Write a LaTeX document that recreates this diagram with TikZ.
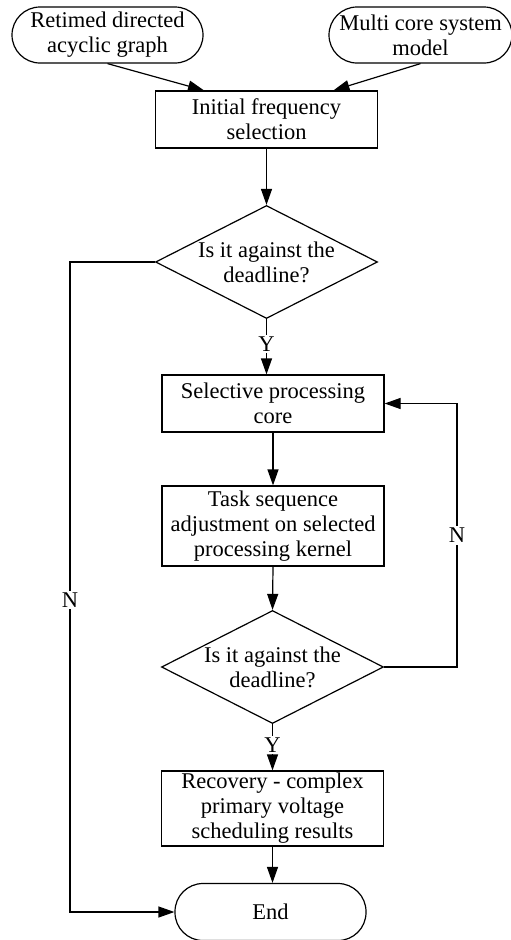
\documentclass[tikz,border=0pt]{standalone}
\usepackage{fontspec}
\setmainfont{Liberation Serif}
\usetikzlibrary{shapes.geometric,arrows.meta,calc}

\tikzset{
  terminal/.style={draw, rectangle, rounded corners=28pt, minimum height=56pt, inner sep=0pt, align=center},
  process/.style={draw, rectangle, minimum width=222pt, inner sep=0pt, align=center},
  decision/.style={draw, diamond, minimum width=222pt, minimum height=113pt, inner sep=0pt},
  flow/.style={-{Triangle[length=16pt,width=11pt]}},
  lbl/.style={fill=white, inner sep=2pt},
}

\begin{document}
\begin{tikzpicture}[x=1pt,y=-1pt,line width=1.2pt,font=\fontsize{22.5}{25}\selectfont]
            \useasboundingbox (0,0) rectangle (511,940);

            % draw the inputs
            \node[terminal, minimum width=191pt] (dag) at (107.5,35) {Retimed directed\\acyclic graph};
            \node[terminal, minimum width=183pt] (model) at (420.5,35) {Multi core system\\model};

            % draw the main column
            \node[process, minimum height=57pt] (init) at (266.5,119.5) {Initial frequency\\selection};
            \node[decision, label={[align=center]center:Is it against the\\deadline?}] (d1) at (266.5,262) {};
            \node[process, minimum height=57pt] (sel) at (273,403.5) {Selective processing\\core};
            \node[process, minimum height=80pt] (task) at (273,526) {Task sequence\\adjustment on selected\\processing kernel};
            \node[decision, label={[align=center]center:Is it against the\\deadline?}] (d2) at (272.5,667) {};
            \node[process, minimum height=75pt] (rec) at (272.5,808.5) {Recovery - complex\\primary voltage\\scheduling results};
            \node[terminal, minimum width=191pt, minimum height=57pt] (end) at (270.5,912) {End};

            % bends of the loops
            \coordinate (leftbend) at (70,262);
            \coordinate (rightbend) at (457,667);

            % draw the connectors
            \draw[flow] (dag.south) -- ($(init.north west)!0.22!(init.north east)$);
            \draw[flow] (model.south) -- ($(init.north west)!0.8!(init.north east)$);
            \draw[flow] (init.south) -- (d1.north);
            \draw[flow] (d1.south) -- node[lbl, pos=0.45] {Y} (d1.south |- sel.north);
            \draw[flow] (sel.south) -- (task.north);
            \draw[flow] (task.south) -- (d2.north);
            \draw[flow] (d2.south) -- node[lbl, pos=0.45] {Y} (d2.south |- rec.north);
            \draw[flow] (rec.south) -- (rec.south |- end.north);
            \draw[flow] (d2.east) -- (rightbend) -- node[lbl] {N} (rightbend |- sel.east) -- (sel.east);
            \draw[flow] (d1.west) -- (leftbend) -- node[lbl, pos=0.52] {N} (leftbend |- end.west) -- (end.west);

        \end{tikzpicture}
\end{document}
